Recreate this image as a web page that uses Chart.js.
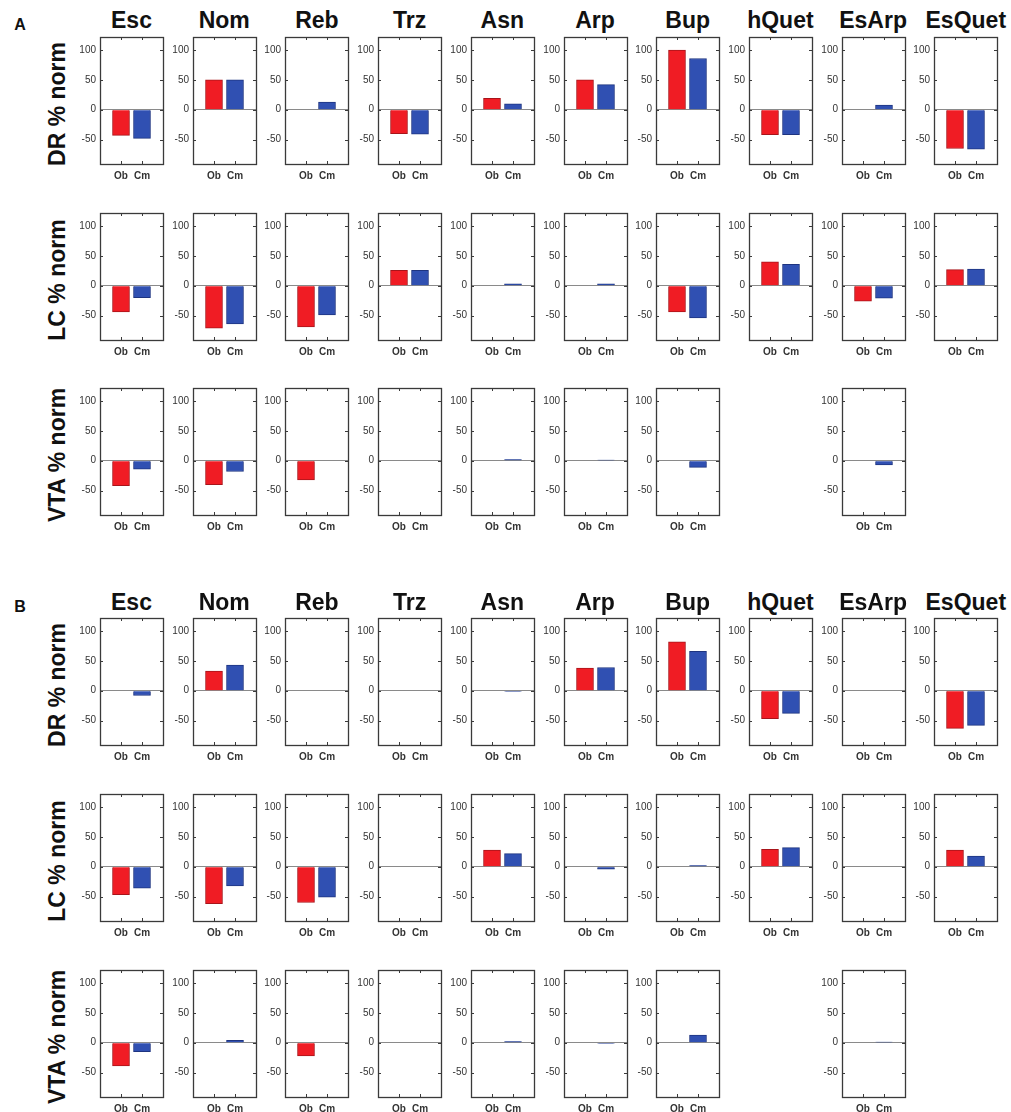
<!DOCTYPE html>
<html>
<head>
<meta charset="utf-8">
<script src="https://cdn.jsdelivr.net/npm/chart.js@4.4.1/dist/chart.umd.min.js"></script>
<style>
    body { margin: 0; background: #fff; }
    #page { position: relative; width: 1011px; height: 1112px; overflow: hidden; font-family: "Liberation Sans", Arial, sans-serif; }
    .lbl { position: absolute; transform: translate(-50%, -50%); white-space: nowrap; font-weight: bold; color: #111; }
    .title { font-size: 23px; }
    .row { font-size: 23px; transform: translate(-50%, -50%) rotate(-90deg); }
    .panel { font-size: 16px; }
    canvas { position: absolute; }
</style>
</head>
<body>
<div id="page"></div>
<script>
const drugs = ['Esc', 'Nom', 'Reb', 'Trz', 'Asn', 'Arp', 'Bup', 'hQuet', 'EsArp', 'EsQuet']
const regions = ['DR', 'LC', 'VTA']
const barLabels = ['', 'Ob', 'Cm', '']
const yTicks = [-50, 0, 50, 100]
const yMin = -91
const yMax = 122

// panel A (null = no plot)
const aDrOb  = [-43, 50, 0, -40, 19, 50, 100, -42, 0, -65]
const aDrCm  = [-48, 50, 13, -41, 10, 42, 86, -42, 8, -66]
const aLcOb  = [-44, -71, -69, 26, 0, 0, -44, 40, -26, 27]
const aLcCm  = [-20, -64, -49, 26, 3, 3, -54, 36, -21, 28]
const aVtaOb = [-42, -40, -32, 0, 0, 0, 0, null, 0, null]
const aVtaCm = [-14, -18, 0, 0, 2, 1, -11, null, -7, null]
// panel B
const bDrOb  = [0, 33, 0, 0, 0, 38, 82, -47, 0, -63]
const bDrCm  = [-8, 43, 0, 0, -1, 39, 66, -38, 0, -58]
const bLcOb  = [-47, -62, -60, 0, 28, 0, 0, 29, 0, 28]
const bLcCm  = [-36, -32, -51, 0, 22, -4, 2, 32, 0, 18]
const bVtaOb = [-39, 0, -22, 0, 0, 0, 0, null, 0, null]
const bVtaCm = [-15, 4, 0, 0, 2, -1, 13, null, 1, null]

const COLORS = {
    ob: '#f01c24',
    obEdge: '#a8141a',
    cm: '#3050b2',
    cmEdge: '#1e3480',
    frame: '#3a3a3a',
    zero: '#8a8a8a',
    text: '#333'
}

const panels = [
    { letter: 'A', titleY: 20, tops: [37, 213, 388], rows: [[aDrOb, aDrCm], [aLcOb, aLcCm], [aVtaOb, aVtaCm]] },
    { letter: 'B', titleY: 602, tops: [618, 794, 970], rows: [[bDrOb, bDrCm], [bLcOb, bLcCm], [bVtaOb, bVtaCm]] }
]
const colX0 = 100
const colStep = 92.7
const boxW = 63
const boxH = 127
const axisW = 32
const axisH = 19
const padTop = 4
const padRight = 3

const page = document.getElementById('page')

function add_label(text, cls, x, y){
    const el = document.createElement('div')
    el.className = 'lbl ' + cls
    el.textContent = text
    el.style.left = x + 'px'
    el.style.top = y + 'px'
    page.appendChild(el)
}

// box around the plot with small inward ticks, matlab style
const framePlugin = {
    id: 'frame',
    afterDraw(chart){
        const { ctx, chartArea: a, scales } = chart
        ctx.save()
        ctx.strokeStyle = COLORS.frame
        ctx.lineWidth = 1.3
        ctx.strokeRect(Math.round(a.left) + 0.5, Math.round(a.top) + 0.5, Math.round(a.right - a.left), Math.round(a.bottom - a.top))
        ctx.lineWidth = 1
        ctx.beginPath()
        for(const v of yTicks){
            const y = Math.round(scales.y.getPixelForValue(v)) + 0.5
            ctx.moveTo(a.left, y); ctx.lineTo(a.left + 3, y)
            ctx.moveTo(a.right, y); ctx.lineTo(a.right - 3, y)
        }
        for(const i of [1, 2]){
            const x = Math.round(scales.x.getPixelForValue(i)) + 0.5
            ctx.moveTo(x, a.top); ctx.lineTo(x, a.top + 3)
            ctx.moveTo(x, a.bottom); ctx.lineTo(x, a.bottom - 3)
        }
        ctx.stroke()
        ctx.restore()
    }
}

function draw_cell(x, y, ob, cm){
    const canvas = document.createElement('canvas')
    const w = axisW + boxW + padRight
    const h = padTop + boxH + axisH
    canvas.width = w
    canvas.height = h
    canvas.style.left = (x - axisW) + 'px'
    canvas.style.top = (y - padTop) + 'px'
    page.appendChild(canvas)
    new Chart(canvas.getContext('2d'), {
        type: 'bar',
        data: {
            labels: barLabels,
            datasets: [{
                data: [null, ob, cm, null],
                backgroundColor: ['transparent', COLORS.ob, COLORS.cm, 'transparent'],
                borderColor: ['transparent', COLORS.obEdge, COLORS.cmEdge, 'transparent'],
                borderWidth: 1,
                barThickness: 17
            }]
        },
        options: {
            responsive: false,
            animation: false,
            devicePixelRatio: 1,
            layout: { padding: { left: 0, right: padRight, top: padTop, bottom: 0 } },
            plugins: { legend: { display: false }, tooltip: { enabled: false } },
            scales: {
                x: {
                    offset: false,
                    grid: { display: false, drawTicks: false },
                    border: { display: false },
                    ticks: {
                        autoSkip: false, maxRotation: 0, padding: 6,
                        color: COLORS.text,
                        font: { family: 'Liberation Sans, Arial', size: 10, weight: 'bold' }
                    },
                    afterFit: s => { s.height = axisH; s.paddingLeft = 0; s.paddingRight = 0 }
                },
                y: {
                    min: yMin,
                    max: yMax,
                    afterBuildTicks: s => { s.ticks = yTicks.map(v => ({ value: v })) },
                    grid: {
                        drawTicks: false,
                        color: c => c.tick && c.tick.value === 0 ? COLORS.zero : 'transparent',
                        lineWidth: 1
                    },
                    border: { display: false },
                    ticks: {
                        padding: 4,
                        color: COLORS.text,
                        font: { family: 'Liberation Sans, Arial', size: 10 }
                    },
                    afterFit: s => { s.width = axisW; s.paddingTop = 0; s.paddingBottom = 0 }
                }
            }
        },
        plugins: [framePlugin]
    })
}

for(const p of panels){
    add_label(p.letter, 'panel', 20, p.titleY + 5)
    drugs.forEach((d, i) => add_label(d, 'title', colX0 + i * colStep + boxW / 2, p.titleY))
    p.rows.forEach(([ob, cm], r) => {
        const top = p.tops[r]
        add_label(regions[r] + ' % norm', 'row', 57, top + boxH / 2 + 3)
        drugs.forEach((d, i) => {
            if(ob[i] === null) return
            draw_cell(colX0 + i * colStep, top, ob[i], cm[i])
        })
    })
}
</script>
</body>
</html>
